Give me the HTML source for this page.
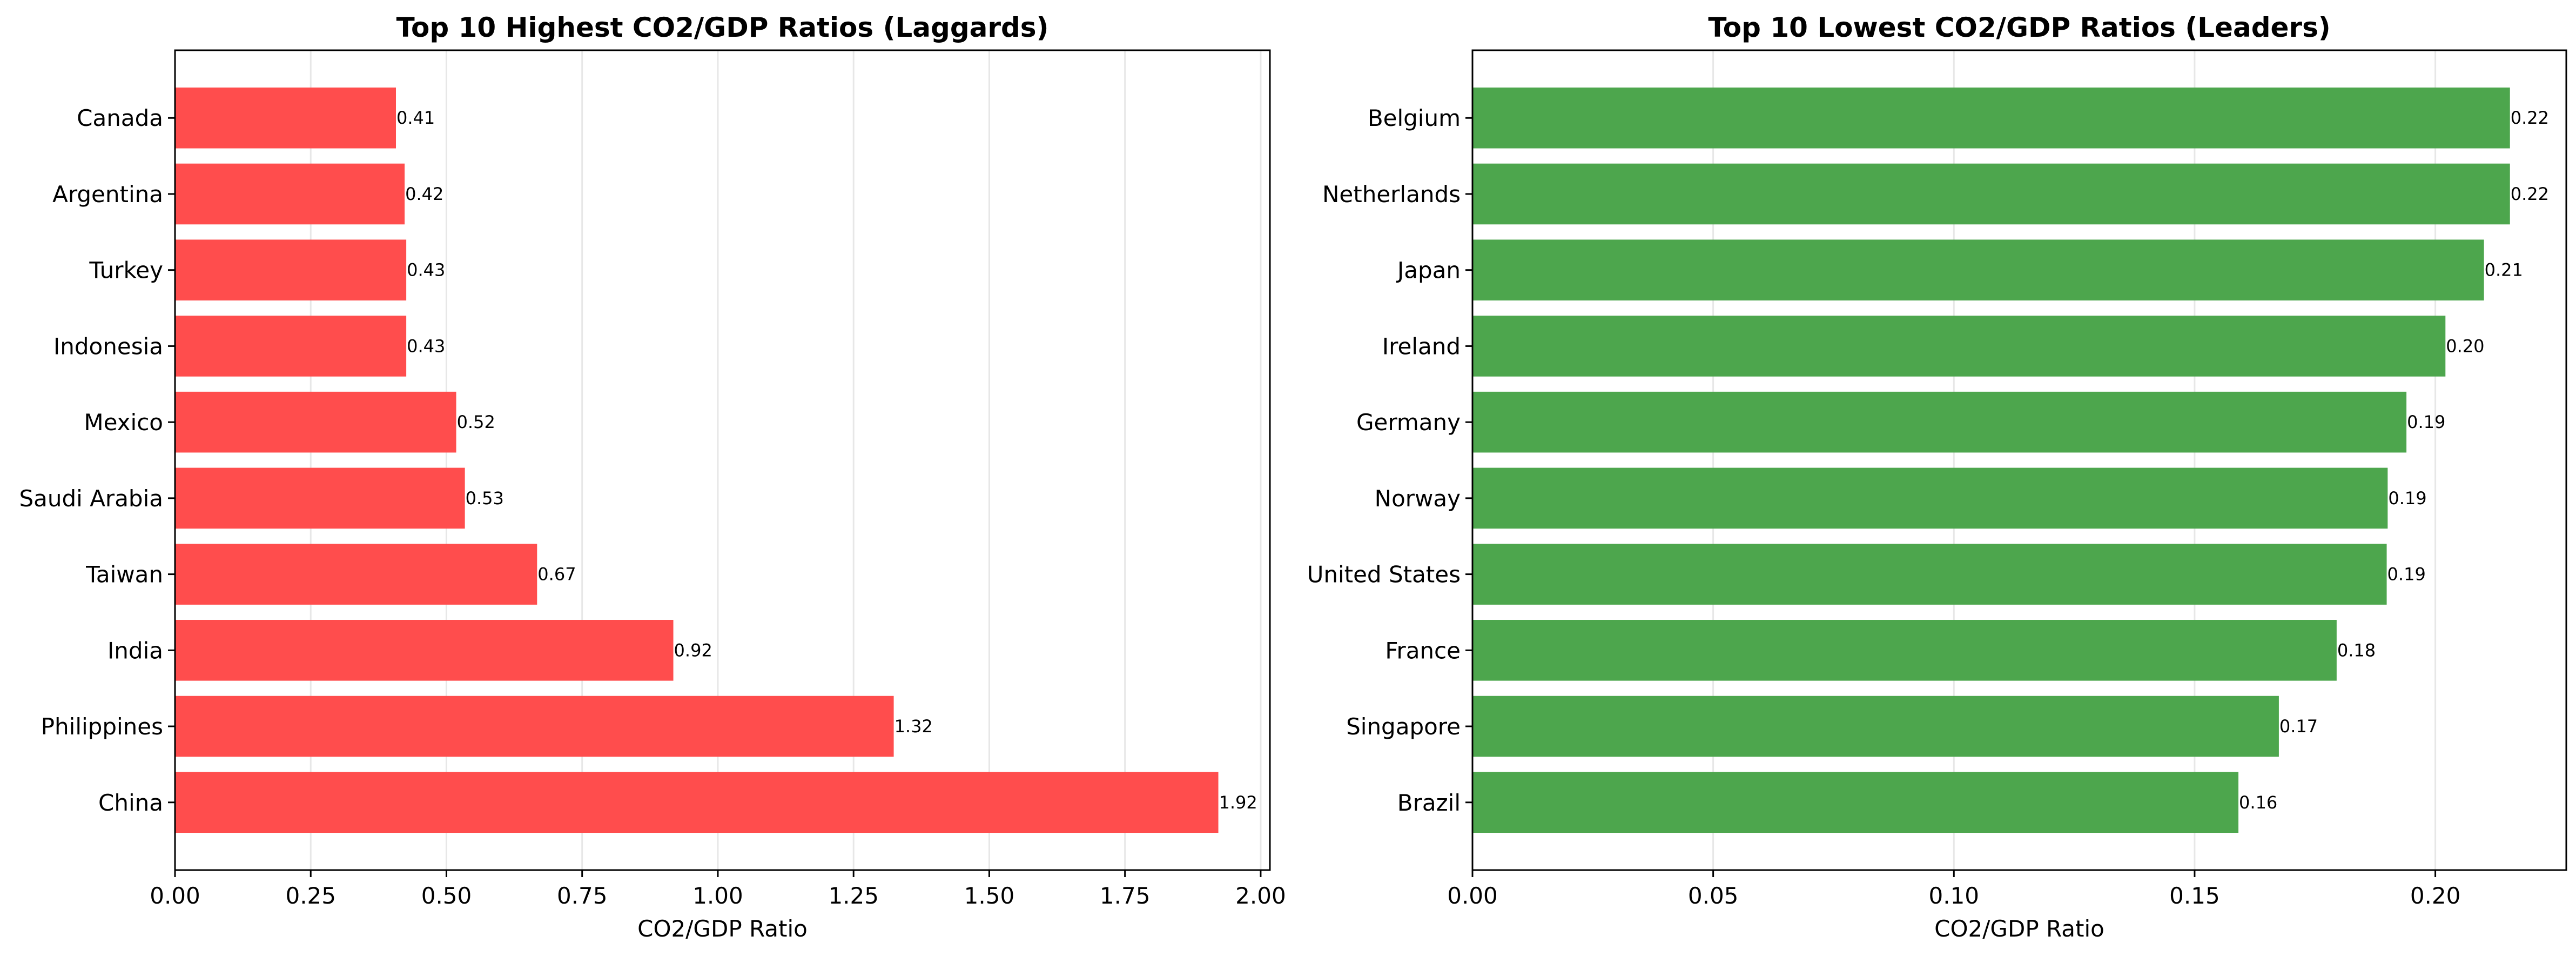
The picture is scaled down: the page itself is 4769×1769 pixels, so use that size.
<!DOCTYPE html>
<html><head><meta charset="utf-8"><style>
html,body{margin:0;padding:0;background:#fff}
svg{display:block;font-family:"DejaVu Sans","Liberation Sans",sans-serif}
</style></head><body>
<svg id="chart" width="4769" height="1769" viewBox="0 0 4769 1769" xmlns="http://www.w3.org/2000/svg"></svg>
<script>
const leftCategories = ["Canada","Argentina","Turkey","Indonesia","Mexico","Saudi Arabia","Taiwan","India","Philippines","China"];
const leftValues = [0.407,0.423,0.426,0.426,0.518,0.534,0.667,0.918,1.324,1.922];
const leftLabels = ["0.41","0.42","0.43","0.43","0.52","0.53","0.67","0.92","1.32","1.92"];
const leftTicks = [0,0.25,0.5,0.75,1.0,1.25,1.5,1.75,2.0];
const leftTickLabels = ["0.00","0.25","0.50","0.75","1.00","1.25","1.50","1.75","2.00"];

const rightCategories = ["Belgium","Netherlands","Japan","Ireland","Germany","Norway","United States","France","Singapore","Brazil"];
const rightValues = [0.2155,0.2155,0.2101,0.2021,0.1940,0.1901,0.1899,0.1795,0.1675,0.1591];
const rightLabels = ["0.22","0.22","0.21","0.20","0.19","0.19","0.19","0.18","0.17","0.16"];
const rightTicks = [0,0.05,0.1,0.15,0.2];
const rightTickLabels = ["0.00","0.05","0.10","0.15","0.20"];

const NS = "http://www.w3.org/2000/svg";
const svg = document.getElementById("chart");
function mk(tag, attrs, parent){
  const e = document.createElementNS(NS, tag);
  for (const k in attrs) e.setAttribute(k, attrs[k]);
  (parent||svg).appendChild(e);
  return e;
}
function panel(opt){
  const g = mk("g", {});
  
  
  const L=opt.left, R=opt.right, T=93, B=1610;
  const xs = v => L + v/opt.xmax*(R-L);
  const n = opt.cats.length;
  const ymin=-0.89, ymax=n-1+0.89;
  const ys = i => T + (i-ymin)/(ymax-ymin)*(B-T);
  opt.ticks.forEach((t,i)=>{
    const gl = mk("line",{x1:xs(t),x2:xs(t),y1:T,y2:B,stroke:"#b0b0b0","stroke-opacity":0.3,"stroke-width":3},g);
    
    
  });
  const bh = 0.8*(ys(1)-ys(0));
  opt.cats.forEach((c,i)=>{
    const y = ys(i);
    const r = mk("rect",{x:xs(0),y:y-bh/2,width:xs(opt.vals[i])-xs(0),height:bh,fill:opt.color},g);
    
    
    const vl = mk("text",{x:xs(opt.vals[i])+1,y:y+11,"font-size":32,fill:"#000"},g);
    vl.textContent = opt.labels[i];
    
    
    mk("line",{x1:L-13,x2:L,y1:y,y2:y,stroke:"#000","stroke-width":3},g);
    const cl = mk("text",{x:L-22,y:y+15,"font-size":42,"text-anchor":"end",fill:"#000"},g);
    cl.textContent = c;
    
    
  });
  opt.ticks.forEach((t,i)=>{
    mk("line",{x1:xs(t),x2:xs(t),y1:B,y2:B+13,stroke:"#000","stroke-width":3},g);
    const tl = mk("text",{x:xs(t),y:B+62,"font-size":42,"text-anchor":"middle",fill:"#000"},g);
    tl.textContent = opt.tickLabels[i];
    
    
  });
  const fr = mk("rect",{x:L,y:T,width:R-L,height:B-T,fill:"none",stroke:"#000","stroke-width":3},g);
  
  
  const xl = mk("text",{x:(L+R)/2,y:1733,"font-size":42,"text-anchor":"middle",fill:"#000"},g);
  xl.textContent = "CO2/GDP Ratio";
  
  
  const ti = mk("text",{x:(L+R)/2,y:68,"font-size":50,"font-weight":"bold","text-anchor":"middle",fill:"#000"},g);
  ti.textContent = opt.title;
  
  
}
panel({name:"laggards-panel",left:324,right:2351,xmax:2.017,cats:leftCategories,vals:leftValues,labels:leftLabels,ticks:leftTicks,tickLabels:leftTickLabels,color:"#ff4d4d",title:"Top 10 Highest CO2/GDP Ratios (Laggards)"});
panel({name:"leaders-panel",left:2726,right:4751,xmax:0.2272,cats:rightCategories,vals:rightValues,labels:rightLabels,ticks:rightTicks,tickLabels:rightTickLabels,color:"#4da64d",title:"Top 10 Lowest CO2/GDP Ratios (Leaders)"});
</script>
</body></html>
